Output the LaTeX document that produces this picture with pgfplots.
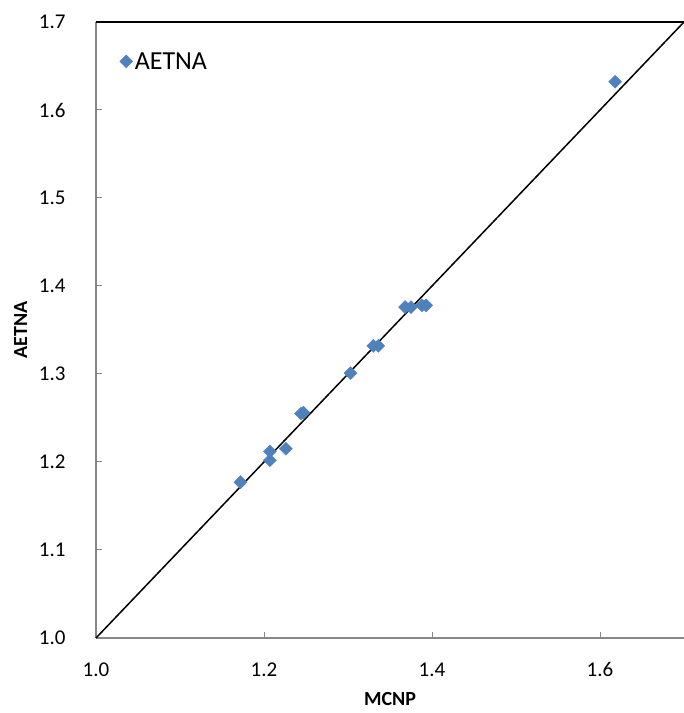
\documentclass[border=0pt]{standalone}
\usepackage{pgfplots}
\pgfplotsset{compat=1.18}
\usepackage{fontspec}
\setmainfont{Carlito}
\usetikzlibrary{calc}
\definecolor{mblue}{HTML}{4F81BD}
\definecolor{agray}{HTML}{868686}
\begin{document}
\begin{tikzpicture}
\begin{axis}[
  scale only axis,
  width=588bp, height=616bp,
  xmin=1.0, xmax=1.7, ymin=1.0, ymax=1.7,
  axis lines*=left,
  axis line style={agray, line width=1.5bp},
  xtick={1.0,1.2,1.4,1.6},
  ytick={1.0,1.1,1.2,1.3,1.4,1.5,1.6,1.7},
  tick style={agray, line width=1bp},
  major tick length=6bp,
  tick align=inside,
  /pgf/number format/.cd, fixed, fixed zerofill, precision=1, assume math mode=true,
  /pgfplots/.cd,
  tick label style={font=\fontsize{21bp}{25bp}\selectfont},
  yticklabel style={xshift=-27bp},
  xticklabel style={yshift=-21bp},
  xlabel={\textbf{MCNP}},
  ylabel={\textbf{AETNA}},
  label style={font=\fontsize{20bp}{24bp}\selectfont},
  xlabel style={yshift=-9bp},
  ylabel style={yshift=5bp},
  legend style={draw=none, fill=none, at={(0.035,0.936)}, anchor=west,
    font=\fontsize{26bp}{30bp}\selectfont, legend cell align=left,
    /tikz/every even column/.append style={column sep=2bp}},
  legend image post style={xshift=-2bp},
  clip=false,
]
\addplot[black, line width=1.5bp, forget plot] coordinates {(1.0,1.0) (1.7,1.7)};
\addplot[black, line width=1.5bp, forget plot] coordinates {(1.0,1.7) (1.7,1.7)};
\addplot[only marks, mark=square*, mark size=4.6bp, mark options={fill=mblue, draw=mblue, rotate=45}] coordinates {
(1.172,1.177)
(1.207,1.202)
(1.207,1.212)
(1.226,1.215)
(1.244,1.255)
(1.247,1.256)
(1.303,1.301)
(1.330,1.332)
(1.336,1.332)
(1.368,1.376)
(1.375,1.376)
(1.388,1.378)
(1.393,1.378)
(1.618,1.632)
};
\addlegendentry{AETNA}
\end{axis}
\pgfresetboundingbox
\path ($(current axis.south west)+(-96bp,-75bp)$) rectangle ($(current axis.north east)+(0bp,22bp)$);
\end{tikzpicture}
\end{document}
